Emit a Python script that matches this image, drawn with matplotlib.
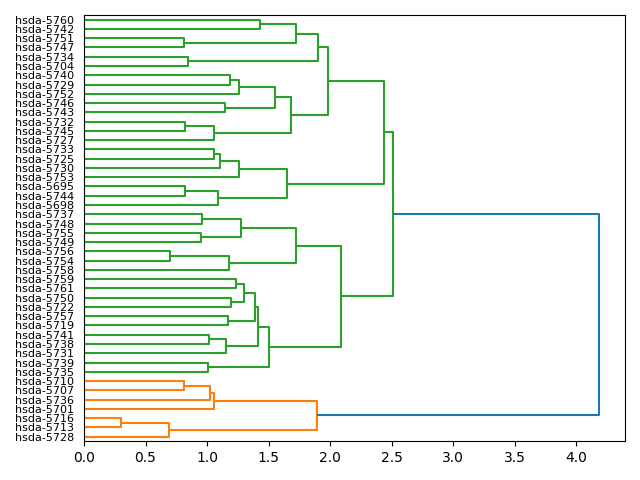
import matplotlib
matplotlib.use("Agg")
import matplotlib.pyplot as plt
from matplotlib.collections import LineCollection

# leaf labels, top to bottom as shown
labels = ["hsda-5760", "hsda-5742", "hsda-5751", "hsda-5747", "hsda-5734", "hsda-5704",
          "hsda-5740", "hsda-5729", "hsda-5752", "hsda-5746", "hsda-5743", "hsda-5732",
          "hsda-5745", "hsda-5727", "hsda-5733", "hsda-5725", "hsda-5730", "hsda-5753",
          "hsda-5695", "hsda-5744", "hsda-5698", "hsda-5737", "hsda-5748", "hsda-5755",
          "hsda-5749", "hsda-5756", "hsda-5754", "hsda-5758", "hsda-5759", "hsda-5761",
          "hsda-5750", "hsda-5722", "hsda-5757", "hsda-5719", "hsda-5741", "hsda-5738",
          "hsda-5731", "hsda-5739", "hsda-5735", "hsda-5710", "hsda-5707", "hsda-5736",
          "hsda-5701", "hsda-5716", "hsda-5713", "hsda-5728"]

# merges: new node ids start at len(labels)
left_child = [43, 46, 25, 39, 2, 11, 18, 4, 23, 21, 37, 34, 49, 51, 14, 58, 52, 60, 9, 57,
              32, 48, 6, 30, 28, 68, 63, 55, 70, 74, 0, 75, 77, 71, 72, 79, 76, 73, 61, 82,
              85, 83, 86, 88, 89]
right_child = [44, 45, 26, 40, 3, 12, 19, 5, 24, 22, 38, 35, 41, 13, 15, 42, 20, 16, 10, 36,
               33, 27, 7, 31, 29, 8, 17, 54, 69, 66, 1, 65, 56, 64, 62, 59, 50, 67, 47, 53,
               81, 78, 80, 87, 84]
heights = [0.30, 0.69, 0.70, 0.81, 0.81, 0.82, 0.82, 0.845, 0.953, 0.958, 1.01, 1.02, 1.026,
           1.056, 1.057, 1.06, 1.09, 1.108, 1.149, 1.154, 1.168, 1.176, 1.19, 1.198, 1.236,
           1.257, 1.263, 1.28, 1.30, 1.393, 1.434, 1.415, 1.505, 1.556, 1.646, 1.686, 1.719,
           1.72, 1.89, 1.904, 1.98, 2.085, 2.44, 2.512, 4.187]

n = len(labels)
ypos = {i: 5 + 10 * (n - 1 - i) for i in range(n)}
xpos = {i: 0.0 for i in range(n)}
members = {i: [i] for i in range(n)}
for k, (a, b, h) in enumerate(zip(left_child, right_child, heights)):
    node = n + k
    ypos[node] = (ypos[a] + ypos[b]) / 2
    xpos[node] = h
    members[node] = members[a] + members[b]

# colour clusters like scipy's default threshold
threshold = 0.7 * max(heights)
root = n + len(heights) - 1
cluster_color = {}
palette = iter(["C1", "C2", "C3", "C4"])


def assign(node, color):
    cluster_color[node] = color
    if node >= n:
        k = node - n
        assign(left_child[k], color)
        assign(right_child[k], color)


# clusters ordered bottom-up like scipy
tops = []
def find_tops(node):
    if node < n or xpos[node] < threshold:
        tops.append(node)
        return
    k = node - n
    find_tops(left_child[k])
    find_tops(right_child[k])

find_tops(root)
tops.sort(key=lambda t: ypos[t])
for t in tops:
    if t >= n:
        assign(t, next(palette))

fig, ax = plt.subplots()
segs, cols = [], []
for k, (a, b, h) in enumerate(zip(left_child, right_child, heights)):
    node = n + k
    segs.append([(xpos[a], ypos[a]), (h, ypos[a]), (h, ypos[b]), (xpos[b], ypos[b])])
    cols.append("C0" if h >= threshold else cluster_color[node])

ax.add_collection(LineCollection(segs, colors=cols, linewidths=1.5))

ax.set_ylim(0, 10 * n)
ax.set_xlim(0, max(heights) * 1.05)
ax.set_yticks([ypos[i] for i in range(n)])
ax.set_yticklabels(labels, fontsize=8)
for line in ax.get_yticklines():
    line.set_visible(False)

plt.tight_layout()
plt.savefig("out.png")
